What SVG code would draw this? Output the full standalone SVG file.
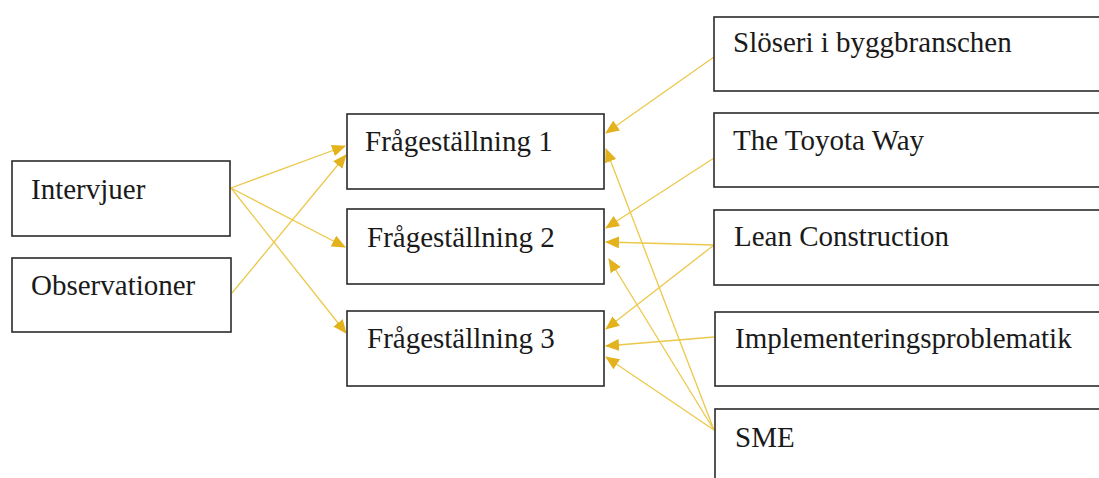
<svg xmlns="http://www.w3.org/2000/svg" width="1099" height="478" viewBox="0 0 1099 478">
  <style>
    .box { fill: #ffffff; stroke: #2b2b2b; stroke-width: 1.6; }
    .lbl { font-family: "Liberation Serif", "Times New Roman", serif; font-size: 29px; fill: #1a1a1a; }
    .link { fill: none; stroke: #ecc84a; stroke-width: 1.3; marker-end: url(#head); }
  </style>
  <defs>
    <marker id="head" markerUnits="userSpaceOnUse" markerWidth="14" markerHeight="12" viewBox="0 0 14 12" refX="13" refY="6" orient="auto">
      <path d="M0,0 L14,6 L0,12 Z" fill="#e3b21c"/>
    </marker>
  </defs>
  <rect width="1099" height="478" fill="#ffffff"/>

  <!-- connectors -->
  <g id="connectors">
    <line class="link" x1="231" y1="188" x2="345" y2="146"/>
    <line class="link" x1="231" y1="188" x2="345" y2="247"/>
    <line class="link" x1="231" y1="188" x2="346" y2="333"/>
    <line class="link" x1="232" y1="293" x2="346" y2="155"/>

    <line class="link" x1="714" y1="57" x2="606" y2="133"/>
    <line class="link" x1="714" y1="158" x2="606" y2="228"/>
    <line class="link" x1="714" y1="245" x2="606" y2="242"/>
    <line class="link" x1="714" y1="245" x2="606" y2="329"/>
    <line class="link" x1="714" y1="337" x2="606" y2="346"/>
    <line class="link" x1="714" y1="430" x2="606" y2="149"/>
    <line class="link" x1="714" y1="430" x2="609" y2="259"/>
    <line class="link" x1="714" y1="430" x2="606" y2="357"/>
  </g>

  <!-- sources -->
  <g id="intervjuer">
    <rect class="box" x="12" y="161" width="218" height="75"/>
    <text class="lbl" x="31" y="199">Intervjuer</text>
  </g>
  <g id="observationer">
    <rect class="box" x="12" y="258" width="219" height="74"/>
    <text class="lbl" x="31" y="295">Observationer</text>
  </g>

  <!-- research questions -->
  <g id="fragestallning1">
    <rect class="box" x="347" y="114" width="257" height="75"/>
    <text class="lbl" x="365" y="151">Frågeställning 1</text>
  </g>
  <g id="fragestallning2">
    <rect class="box" x="347" y="209" width="257" height="75"/>
    <text class="lbl" x="367" y="247">Frågeställning 2</text>
  </g>
  <g id="fragestallning3">
    <rect class="box" x="347" y="311" width="257" height="75"/>
    <text class="lbl" x="367" y="348">Frågeställning 3</text>
  </g>

  <!-- theory -->
  <g id="sloseri">
    <rect class="box" x="714" y="17" width="400" height="74"/>
    <text class="lbl" x="733" y="52">Slöseri i byggbranschen</text>
  </g>
  <g id="toyota">
    <rect class="box" x="714" y="113" width="400" height="74"/>
    <text class="lbl" x="733" y="150">The Toyota Way</text>
  </g>
  <g id="lean">
    <rect class="box" x="714" y="210" width="400" height="75"/>
    <text class="lbl" x="734" y="246">Lean Construction</text>
  </g>
  <g id="implementering">
    <rect class="box" x="715" y="312" width="400" height="74"/>
    <text class="lbl" x="735" y="348">Implementeringsproblematik</text>
  </g>
  <g id="sme">
    <rect class="box" x="715" y="409" width="400" height="90"/>
    <text class="lbl" x="735" y="447">SME</text>
  </g>
</svg>
